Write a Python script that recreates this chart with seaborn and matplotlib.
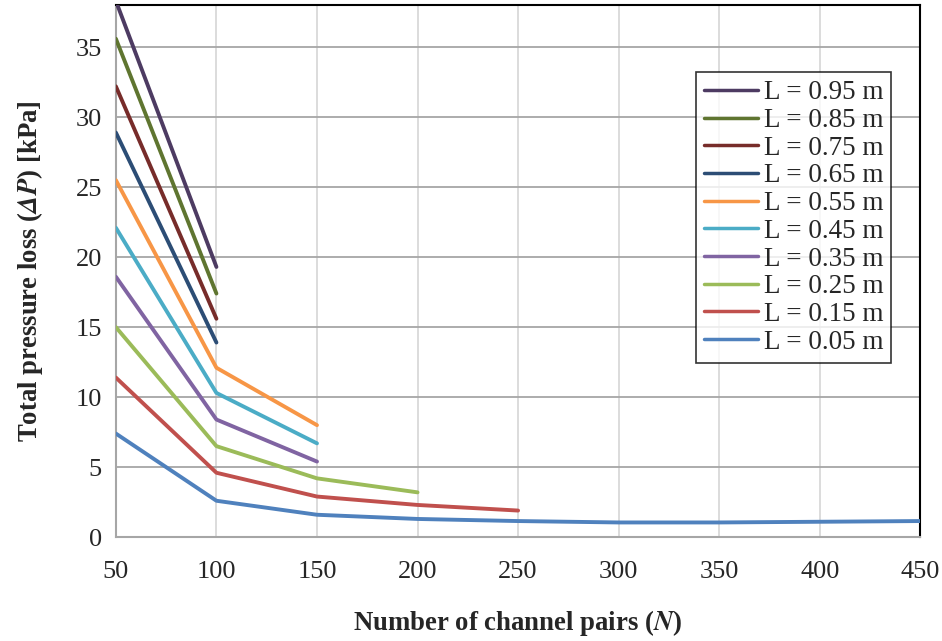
import seaborn as sns
import matplotlib.pyplot as plt
import pandas as pd

# channel pairs and pressure loss [kPa] per channel length
n_pairs = [50, 100, 150, 200, 250, 300, 350, 400, 450]
lengths = ['0.95', '0.85', '0.75', '0.65', '0.55', '0.45', '0.35', '0.25', '0.15', '0.05']
dp_095 = [38.3, 19.3]
dp_085 = [35.6, 17.4]
dp_075 = [32.2, 15.6]
dp_065 = [28.9, 13.9]
dp_055 = [25.5, 12.1, 8.0]
dp_045 = [22.1, 10.3, 6.7]
dp_035 = [18.6, 8.4, 5.4]
dp_025 = [15.0, 6.5, 4.2, 3.2]
dp_015 = [11.4, 4.6, 2.9, 2.3, 1.9]
dp_005 = [7.4, 2.6, 1.6, 1.3, 1.15, 1.05, 1.05, 1.1, 1.15]
colors = ['#4D3B62', '#5F7530', '#772C2A', '#2C4D75', '#F79646',
          '#4BACC6', '#8064A2', '#9BBB59', '#C0504D', '#4F81BD']

series = [dp_095, dp_085, dp_075, dp_065, dp_055, dp_045, dp_035, dp_025, dp_015, dp_005]
rows = []
for L, vals in zip(lengths, series):
    for n, v in zip(n_pairs, vals):
        rows.append({'N': n, 'dP': v, 'L': 'L = ' + L + ' m'})
df = pd.DataFrame(rows)

sns.set_style('white')
plt.rcParams['font.family'] = ['Liberation Serif', 'DejaVu Serif']
plt.rcParams['mathtext.fontset'] = 'stix'

fig = plt.figure(figsize=(9.42, 6.41), dpi=100)
ax = fig.add_axes([0.123, 0.162, 0.854, 0.83])

sns.lineplot(data=df, x='N', y='dP', hue='L', palette=colors,
             hue_order=['L = ' + L + ' m' for L in lengths],
             linewidth=2.8, ax=ax, zorder=3)

ax.set_xlim(50, 450)
ax.set_ylim(0, 38)
ax.set_xticks(range(50, 451, 50))
ax.set_yticks(range(0, 36, 5))
ax.tick_params(axis='x', labelsize=19, length=0, pad=17)
ax.tick_params(axis='y', labelsize=19, length=0, pad=10)
ax.yaxis.grid(True, color='#A6A6A6', linewidth=1.3)
ax.xaxis.grid(True, color='#D9D9D9', linewidth=1.3)
ax.set_axisbelow(True)
for s in ['left', 'bottom']:
    ax.spines[s].set_color('#A6A6A6')
    ax.spines[s].set_linewidth(1.5)
for s in ['top', 'right']:
    ax.spines[s].set_color('black')
    ax.spines[s].set_linewidth(1.5)

ax.set_xlabel('Number of channel pairs ($\\mathbfit{N}$)', fontsize=19.3, fontweight='bold', labelpad=18)
ax.set_ylabel('Total pressure loss ($\\mathbfit{\\Delta P}$) [kPa]', fontsize=19.3, fontweight='bold', labelpad=22)

leg = ax.legend(loc='upper right', bbox_to_anchor=(0.964, 0.874), fontsize=19.5,
                frameon=True, fancybox=False, edgecolor='black', handlelength=2.0,
                handletextpad=0.2, labelspacing=0.1, borderpad=0.3, borderaxespad=0)
leg.get_frame().set_linewidth(1.2)
for h in leg.get_lines():
    h.set_linewidth(2.5)

plt.savefig('out.png', dpi=100)
